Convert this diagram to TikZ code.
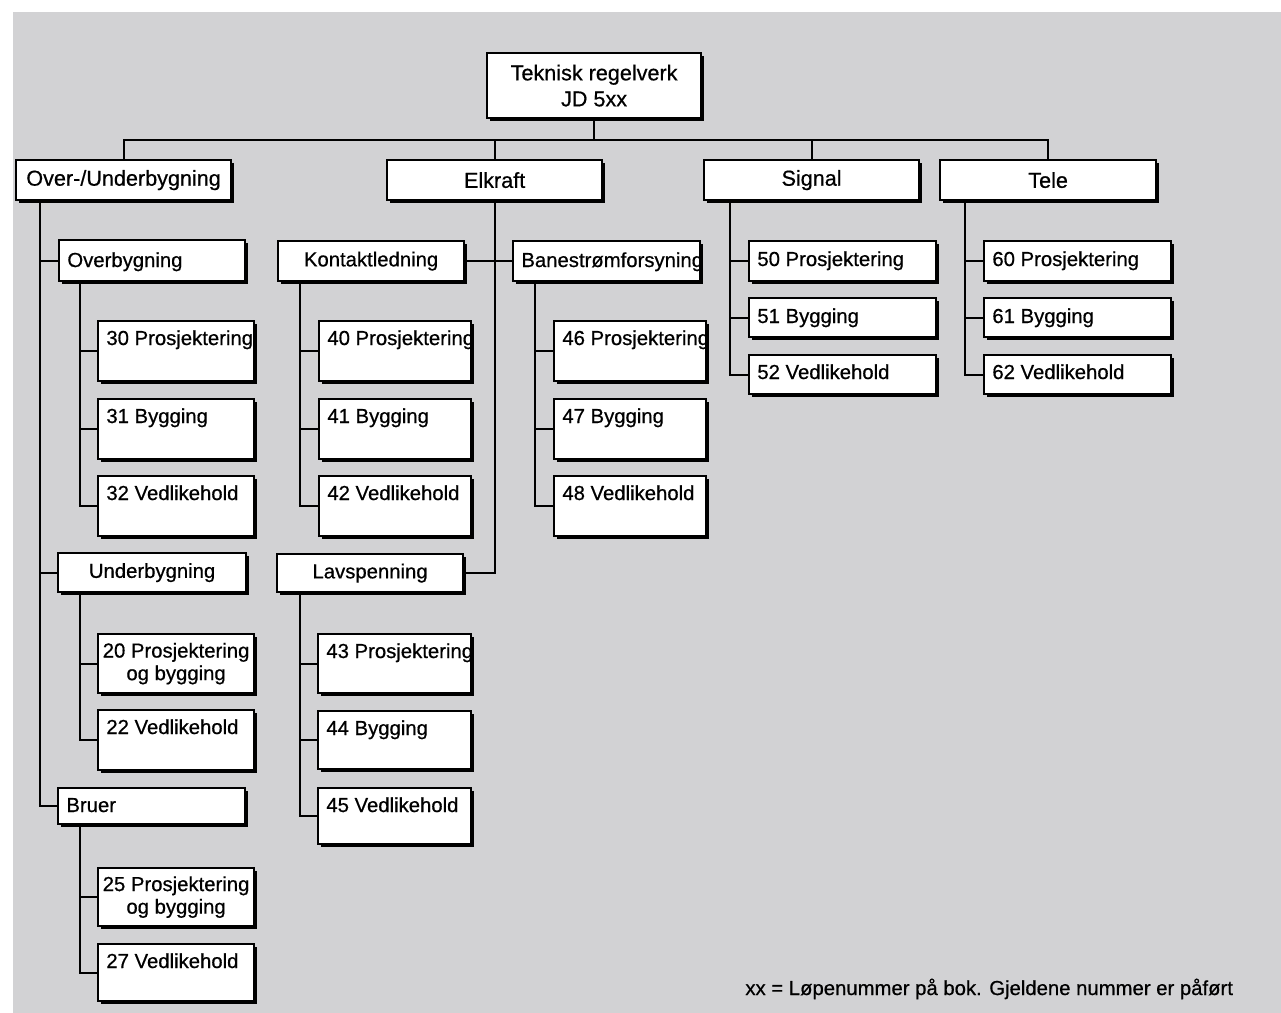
\documentclass[tikz,border=0pt]{standalone}
\usepackage{fontspec}
\setmainfont{Liberation Sans}[FakeBold=0.6]
\usetikzlibrary{shadows}
\definecolor{bg}{RGB}{210,210,212}
\newcommand\BigF{\fontsize{10.8}{13}\selectfont}
\newcommand\SmF{\fontsize{10.15}{11.3}\selectfont}
\tikzset{
  box/.style={draw=black, fill=white, line width=1.1pt, inner sep=0pt, anchor=north west,
    drop shadow={shadow xshift=1.6pt, shadow yshift=-1.6pt, opacity=1, fill=black}},
  conn/.style={draw=black, line width=1.1pt},
  lbl/.style={inner sep=0pt, anchor=base west, font=\SmF},
}
% centred box: [font]{name}{x1}{y1}{x2}{y2}{text}
\newcommand\cbox[7][\SmF]{\node[box, font=#1, align=center, minimum width={(#5-#3)*0.5pt}, minimum height={(#6-#4)*0.5pt}] (#2) at (#3,#4) {#7};}
% left box: {name}{x1}{y1}{x2}{y2}{text}{baseline offset}
\newcommand\lbox[7]{\node[box, minimum width={(#4-#2)*0.5pt}, minimum height={(#5-#3)*0.5pt}] (#1) at (#2,#3) {};
  \node[lbl] (#1t) at (#2+9,#3+#7) {#6};}
\begin{document}
\begin{tikzpicture}[x=0.5pt,y=-0.5pt]
\useasboundingbox (0,0) rectangle (1281,1013);
\fill[white] (0,0) rectangle (1281,1013);
\fill[bg] (13,12) rectangle (1281,1013);

% root and level 1
\cbox[\BigF]{root}{486}{52}{700}{117}{Teknisk regelverk\\JD 5xx}
\cbox[\BigF]{ou}{15}{159}{230}{199}{Over-/Underbygning}
\cbox[\BigF]{el}{386}{159}{601}{199}{Elkraft}
\cbox[\BigF]{sig}{703}{159}{918}{199}{Signal}
\cbox[\BigF]{tele}{939}{159}{1155}{199}{Tele}

% level 2
\lbox{overb}{58}{239}{244}{280}{Overbygning}{28}
\cbox{underb}{57}{552}{245}{591}{Underbygning}
\lbox{bruer}{57}{787}{244}{823}{Bruer}{25}
\cbox{kont}{277}{240}{463}{280}{Kontaktledning}
\lbox{bane}{512}{240}{699}{280}{Banestrømforsyning}{27}
\cbox{lav}{276}{553}{462}{591}{Lavspenning}

% Overbygning children
\lbox{c30}{97}{320}{253}{380}{30 Prosjektering}{25}
\lbox{c31}{97}{398}{253}{458}{31 Bygging}{25}
\lbox{c32}{97}{475}{253}{535}{32 Vedlikehold}{25}
% Underbygning children
\cbox{c20}{97}{633}{253}{692}{20 Prosjektering\\og bygging}
\lbox{c22}{97}{709}{253}{769}{22 Vedlikehold}{25}
% Bruer children
\cbox{c25}{97}{867}{253}{925}{25 Prosjektering\\og bygging}
\lbox{c27}{97}{943}{253}{1000}{27 Vedlikehold}{25}
% Kontaktledning children
\lbox{c40}{318}{320}{470}{380}{40 Prosjektering}{25}
\lbox{c41}{318}{398}{470}{458}{41 Bygging}{25}
\lbox{c42}{318}{475}{470}{535}{42 Vedlikehold}{25}
% Banestromforsyning children
\lbox{c46}{553}{320}{705}{380}{46 Prosjektering}{25}
\lbox{c47}{553}{398}{705}{458}{47 Bygging}{25}
\lbox{c48}{553}{475}{705}{535}{48 Vedlikehold}{25}
% Lavspenning children
\lbox{c43}{317}{633}{470}{692}{43 Prosjektering}{25}
\lbox{c44}{317}{710}{470}{768}{44 Bygging}{25}
\lbox{c45}{317}{787}{470}{843}{45 Vedlikehold}{25}
% Signal children
\lbox{c50}{748}{240}{935}{280}{50 Prosjektering}{26}
\lbox{c51}{748}{297}{935}{336}{51 Bygging}{26}
\lbox{c52}{748}{354}{935}{393}{52 Vedlikehold}{25}
% Tele children
\lbox{c60}{983}{240}{1170}{280}{60 Prosjektering}{26}
\lbox{c61}{983}{297}{1170}{336}{61 Bygging}{26}
\lbox{c62}{983}{354}{1170}{393}{62 Vedlikehold}{25}

% connectors
\coordinate (bar) at (0,140);
\draw[conn] (root.south) -- (root.south |- bar);
\draw[conn] (ou.north) -- (ou.north |- bar) -- (tele.north |- bar) -- (tele.north);
\draw[conn] (el.north) -- (el.north |- bar);
\draw[conn] (sig.north) -- (sig.north |- bar);

\coordinate (ouv) at (40,0);
\draw[conn] (ou.south -| ouv) |- (bruer.west);
\draw[conn] (ouv |- overb.west) -- (overb.west);
\draw[conn] (ouv |- underb.west) -- (underb.west);

\coordinate (ov) at (80,0);
\draw[conn] (overb.south -| ov) |- (c32.west);
\draw[conn] (ov |- c30.west) -- (c30.west);
\draw[conn] (ov |- c31.west) -- (c31.west);
\draw[conn] (underb.south -| ov) |- (c22.west);
\draw[conn] (ov |- c20.west) -- (c20.west);
\draw[conn] (bruer.south -| ov) |- (c27.west);
\draw[conn] (ov |- c25.west) -- (c25.west);

\draw[conn] (el.south) |- (lav.east);
\draw[conn] (kont.east) -- (bane.west);

\coordinate (kv) at (300,0);
\draw[conn] (kont.south -| kv) |- (c42.west);
\draw[conn] (kv |- c40.west) -- (c40.west);
\draw[conn] (kv |- c41.west) -- (c41.west);
\draw[conn] (lav.south -| kv) |- (c45.west);
\draw[conn] (kv |- c43.west) -- (c43.west);
\draw[conn] (kv |- c44.west) -- (c44.west);

\coordinate (bv) at (535,0);
\draw[conn] (bane.south -| bv) |- (c48.west);
\draw[conn] (bv |- c46.west) -- (c46.west);
\draw[conn] (bv |- c47.west) -- (c47.west);

\coordinate (sv) at (730,0);
\draw[conn] (sig.south -| sv) |- (c52.west);
\draw[conn] (sv |- c50.west) -- (c50.west);
\draw[conn] (sv |- c51.west) -- (c51.west);

\coordinate (tv) at (965,0);
\draw[conn] (tele.south -| tv) |- (c62.west);
\draw[conn] (tv |- c60.west) -- (c60.west);
\draw[conn] (tv |- c61.west) -- (c61.west);

\node[lbl] (note) at (745,995) {xx = Løpenummer på bok. Gjeldene nummer er påført};
\end{tikzpicture}
\end{document}
